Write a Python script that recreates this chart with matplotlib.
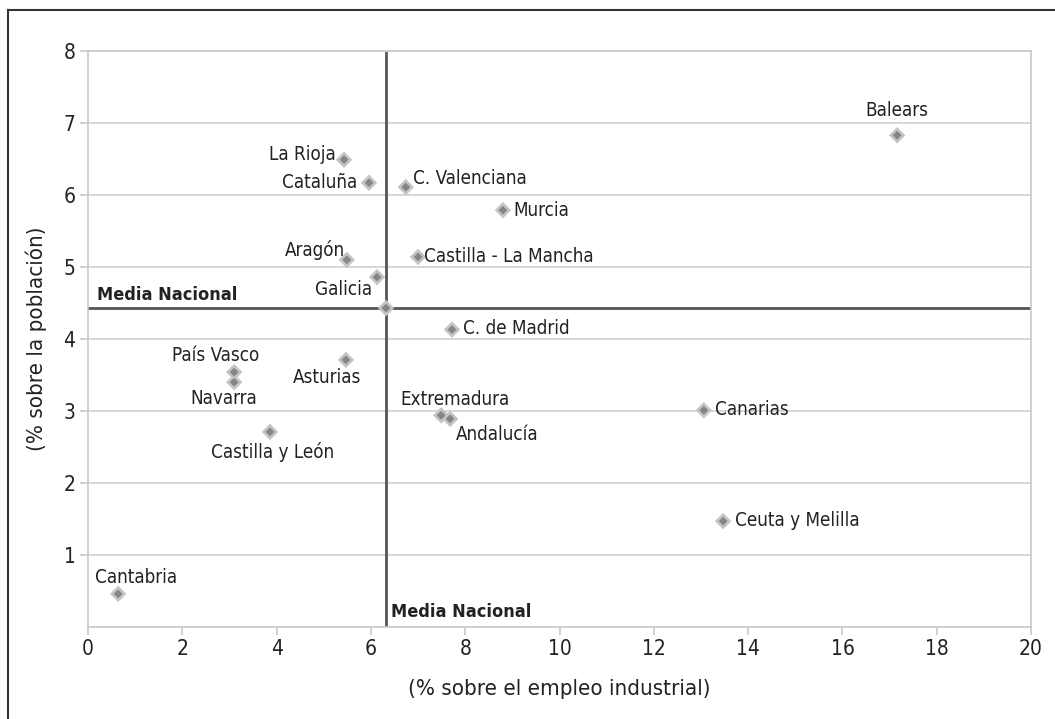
import matplotlib.pyplot as plt
from matplotlib.lines import Line2D

plt.rcParams['font.family'] = ['DejaVu Sans']
plt.rcParams['font.stretch'] = 'condensed'

# Regions: (% sobre el empleo industrial, % sobre la población)
regiones = ['Balears', 'La Rioja', 'Cataluña', 'C. Valenciana', 'Murcia', 'Aragón',
            'Castilla - La Mancha', 'Galicia', 'C. de Madrid', 'País Vasco', 'Navarra',
            'Asturias', 'Castilla y León', 'Extremadura', 'Andalucía', 'Canarias',
            'Ceuta y Melilla', 'Cantabria']
empleo_ind = [17.16, 5.43, 5.96, 6.74, 8.80, 5.49, 7.00, 6.13, 7.72, 3.10, 3.10,
              5.47, 3.86, 7.49, 7.68, 13.06, 13.47, 0.64]
poblacion = [6.83, 6.49, 6.17, 6.11, 5.79, 5.10, 5.14, 4.86, 4.13, 3.54, 3.40,
             3.71, 2.71, 2.94, 2.89, 3.01, 1.47, 0.46]

media_x = 6.32
media_y = 4.43

# label offsets in pixels (dx, dy, ha)
offsets = {
    'Balears': (0, 25, 'center'), 'La Rioja': (-8, 5, 'right'),
    'Cataluña': (-12, 0, 'right'), 'C. Valenciana': (7, 9, 'left'),
    'Murcia': (10, 0, 'left'), 'Aragón': (-2, 10, 'right'),
    'Castilla - La Mancha': (6, 0, 'left'), 'Galicia': (-5, -12, 'right'),
    'C. de Madrid': (11, 1, 'left'), 'País Vasco': (25, 17, 'right'),
    'Navarra': (23, -16, 'right'), 'Asturias': (15, -18, 'right'),
    'Castilla y León': (3, -20, 'center'), 'Extremadura': (14, 16, 'center'),
    'Andalucía': (6, -16, 'left'), 'Canarias': (11, 1, 'left'),
    'Ceuta y Melilla': (12, 1, 'left'), 'Cantabria': (18, 16, 'center'),
}

fig = plt.figure(figsize=(10.55, 7.19), dpi=100, facecolor='white')
ax = fig.add_axes([0.0834, 0.128, 0.8939, 0.801])

# outer frame (left and top only)
fig.add_artist(Line2D([8 / 1055, 8 / 1055], [0, 1 - 10 / 719], transform=fig.transFigure,
                      color='#333333', lw=1.5))
fig.add_artist(Line2D([8 / 1055, 1], [1 - 10 / 719, 1 - 10 / 719], transform=fig.transFigure,
                      color='#333333', lw=1.5))

ax.set_xlim(0, 20)
ax.set_ylim(0, 8)
ax.set_xticks(range(0, 21, 2))
ax.set_yticks(range(1, 9))
ax.yaxis.grid(True, color='#d0d0d0', lw=1.2)
ax.set_axisbelow(True)
for s in ax.spines.values():
    s.set_color('#c8c8c8')
    s.set_linewidth(1.2)
ax.tick_params(axis='both', colors='#c8c8c8', labelcolor='#222222', labelsize=15,
               length=6, width=1.2)
ax.tick_params(axis='x', pad=3)
ax.tick_params(axis='y', pad=3)

# mean lines
ax.plot([media_x, media_x], [0, 7.97], color='#555555', lw=2, zorder=2)
ax.plot([0, 20], [media_y, media_y], color='#555555', lw=2, zorder=2)

# markers
ax.scatter(empleo_ind + [media_x], poblacion + [media_y], marker='D', s=70,
           color='#c4c4c4', edgecolor='none', zorder=3)
ax.scatter(empleo_ind + [media_x], poblacion + [media_y], marker='D', s=20,
           color='#858585', edgecolor='none', zorder=4)

for name, x, y in zip(regiones, empleo_ind, poblacion):
    dx, dy, ha = offsets[name]
    ax.annotate(name, (x, y), xytext=(dx, dy), textcoords='offset pixels',
                ha=ha, va='center', fontsize=13.5, color='#222222')

ax.text(0.2, media_y + 0.06, 'Media Nacional', ha='left', va='bottom', fontsize=13,
        fontweight='bold', color='#222222')
ax.text(media_x + 0.1, 0.08, 'Media Nacional', ha='left', va='bottom', fontsize=13,
        fontweight='bold', color='#222222')

ax.set_xlabel('(% sobre el empleo industrial)', fontsize=16, color='#222222', labelpad=14)
ax.set_ylabel('(% sobre la población)', fontsize=16, color='#222222', labelpad=12)

fig.savefig('out.png', dpi=100, facecolor='white')
